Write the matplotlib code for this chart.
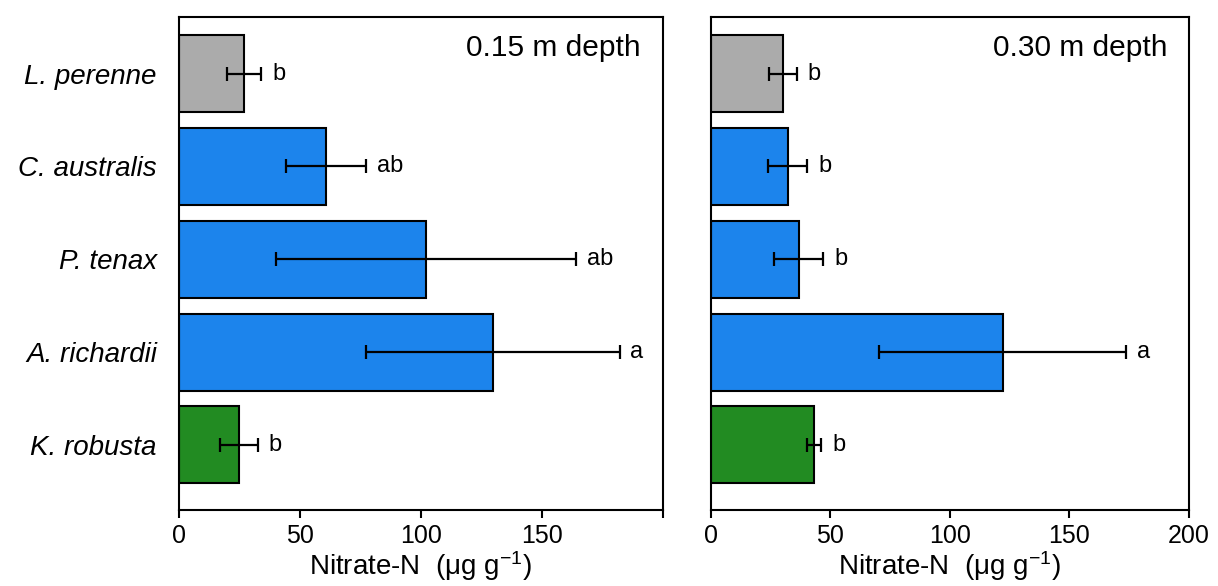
import matplotlib
matplotlib.use("Agg")
import matplotlib.pyplot as plt
import numpy as np

plt.rcParams['font.family'] = ['Liberation Sans', 'DejaVu Sans']
plt.rcParams['mathtext.fontset'] = 'custom'
plt.rcParams['mathtext.rm'] = 'Liberation Sans'
plt.rcParams['mathtext.it'] = 'Liberation Sans:italic'

species = ["L. perenne", "C. australis", "P. tenax", "A. richardii", "K. robusta"]
colors = ["#ABABAB", "#1C84EC", "#1C84EC", "#1C84EC", "#228B22"]

depth15_mean = [27, 60.7, 102.2, 129.7, 24.7]
depth15_err = [7, 16.5, 62, 52.5, 7.9]
depth15_letters = ["b", "ab", "ab", "a", "b"]

depth30_mean = [30.2, 32.2, 36.8, 122.2, 43.3]
depth30_err = [5.7, 8.2, 10.3, 51.7, 3.0]
depth30_letters = ["b", "b", "b", "a", "b"]

titles = ["0.15 m depth", "0.30 m depth"]

fig = plt.figure(figsize=(12.18, 5.86), dpi=100)
ax1 = fig.add_axes([0.147, 0.130, 0.397, 0.841])
ax2 = fig.add_axes([0.5835, 0.130, 0.3925, 0.841])

y = np.arange(len(species))
for i, (ax, m, e, lets, t) in enumerate(zip(
        [ax1, ax2], [depth15_mean, depth30_mean], [depth15_err, depth30_err],
        [depth15_letters, depth30_letters], titles)):
    ax.barh(y, m, height=0.83, color=colors, edgecolor='black', linewidth=1.5, zorder=2)
    ax.errorbar(m, y, xerr=e, fmt='none', ecolor='black', elinewidth=1.6,
                capsize=5, capthick=1.6, zorder=3)
    for yi, mi, ei, l in zip(y, m, e, lets):
        ax.text(mi + ei + 4.5, yi, l, va='center', ha='left', fontsize=17)
    ax.set_xlim(0, 200)
    ax.set_ylim(4.70, -0.61)
    ax.text(0.955, 0.965, t, transform=ax.transAxes, ha='right', va='top', fontsize=21.5)
    ax.set_xticks([0, 50, 100, 150, 200])
    if i == 0:
        ax.set_xticklabels(["0", "50", "100", "150", ""])
        ax.set_yticks(y)
        ax.set_yticklabels(species, style='italic', fontsize=20)
        ax.tick_params(axis='y', length=0, pad=16)
    else:
        ax.set_yticks([])
    ax.tick_params(axis='x', direction='out', length=6, width=1.5, labelsize=18, pad=4)
    for s in ax.spines.values():
        s.set_linewidth(1.5)
    ax.set_xlabel("Nitrate-N  (μg g$^{-1}$)", fontsize=20, labelpad=1)

fig.savefig("out.png", dpi=100)
